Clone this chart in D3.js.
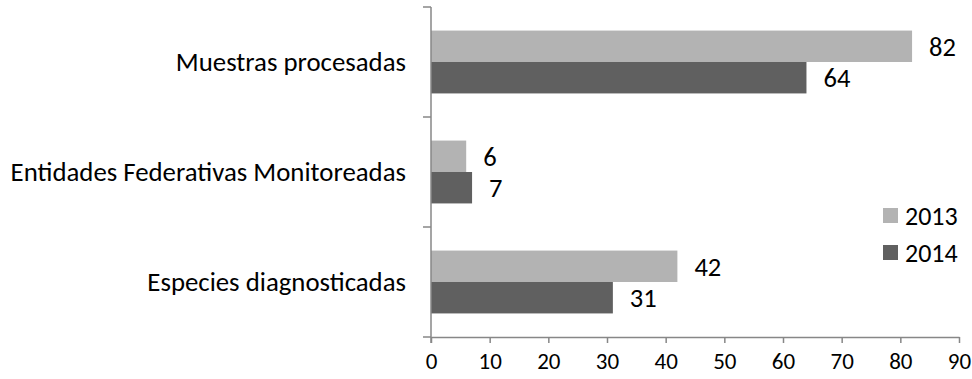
<!DOCTYPE html>
<html>
<head>
<meta charset="utf-8">
<script src="https://cdn.jsdelivr.net/npm/d3@7"></script>
<style>
  html, body { margin: 0; padding: 0; background: #fff; }
  svg { display: block; }
  text { font-family: Carlito, Lato, "Liberation Sans", sans-serif; fill: #000; }
</style>
</head>
<body>
<svg id="chart" width="972" height="379"></svg>
<script>
// Categories, top to bottom
const categories = ["Muestras procesadas", "Entidades Federativas Monitoreadas", "Especies diagnosticadas"];
const seriesNames = ["2013", "2014"];
const values2013 = [82, 6, 42];
const values2014 = [64, 7, 31];
const xTicks = [0, 10, 20, 30, 40, 50, 60, 70, 80, 90];

const colors = { "2013": "#b3b3b3", "2014": "#606060" };
const axisColor = "#878787";

const svg = d3.select("#chart");

const x = d3.scaleLinear().domain([0, 90]).range([431, 959]);
const y0 = d3.scaleBand().domain(categories).range([7, 337]).padding(0);
const y1 = d3.scaleBand().domain(seriesNames).range([0, y0.bandwidth()])
  .paddingInner(0).paddingOuter(0.75);

const rows = categories.map((c, i) => ({
  category: c,
  bars: [
    { series: "2013", value: values2013[i] },
    { series: "2014", value: values2014[i] }
  ]
}));

// Bars and value labels
const groups = svg.append("g").selectAll("g")
  .data(rows).join("g")
  .attr("transform", d => `translate(0,${y0(d.category)})`);

groups.selectAll("rect")
  .data(d => d.bars).join("rect")
  .attr("x", x(0))
  .attr("y", d => y1(d.series))
  .attr("width", d => x(d.value) - x(0))
  .attr("height", y1.bandwidth())
  .attr("fill", d => colors[d.series]);

groups.selectAll("text.value")
  .data(d => d.bars).join("text")
  .attr("class", "value")
  .attr("x", d => x(d.value) + 17)
  .attr("y", d => y1(d.series) + y1.bandwidth() / 2)
  .attr("dy", "0.36em")
  .style("font-size", "26.5px")
  .text(d => d.value);

// Bottom value axis
const xAxis = svg.append("g")
  .attr("transform", `translate(0,${y0.range()[1]})`)
  .call(d3.axisBottom(x).tickValues(xTicks).tickSize(6).tickSizeOuter(0).tickPadding(10));
xAxis.select(".domain").attr("stroke", axisColor).attr("stroke-width", 1.5);
xAxis.selectAll(".tick line").attr("stroke", axisColor).attr("stroke-width", 1.5);
xAxis.selectAll(".tick text")
  .style("font-size", "23px")
  .attr("font-family", null);

// Left category axis: line with ticks at the band boundaries
const boundaries = categories.map(c => y0(c)).concat([y0.range()[1]]);
const yAxis = svg.append("g");
yAxis.append("line")
  .attr("x1", x(0)).attr("x2", x(0))
  .attr("y1", y0.range()[0]).attr("y2", y0.range()[1] + 6)
  .attr("stroke", axisColor).attr("stroke-width", 1.5);
yAxis.selectAll("line.tick")
  .data(boundaries).join("line")
  .attr("class", "tick")
  .attr("x1", x(0) - 8).attr("x2", x(0))
  .attr("y1", d => d).attr("y2", d => d)
  .attr("stroke", axisColor).attr("stroke-width", 1.5);

yAxis.selectAll("text")
  .data(categories).join("text")
  .attr("x", x(0) - 25)
  .attr("y", d => y0(d) + y0.bandwidth() / 2)
  .attr("dy", "0.35em")
  .attr("text-anchor", "end")
  .style("font-size", "26.8px")
  .text(d => d);

// Legend
const legend = svg.append("g").attr("transform", "translate(883,208)");
const items = legend.selectAll("g")
  .data(seriesNames).join("g")
  .attr("transform", (d, i) => `translate(0,${i * 37})`);
items.append("rect")
  .attr("width", 15).attr("height", 15)
  .attr("fill", d => colors[d]);
items.append("text")
  .attr("x", 22).attr("y", 7.5)
  .attr("dy", "0.36em")
  .style("font-size", "26px")
  .text(d => d);
</script>
</body>
</html>
